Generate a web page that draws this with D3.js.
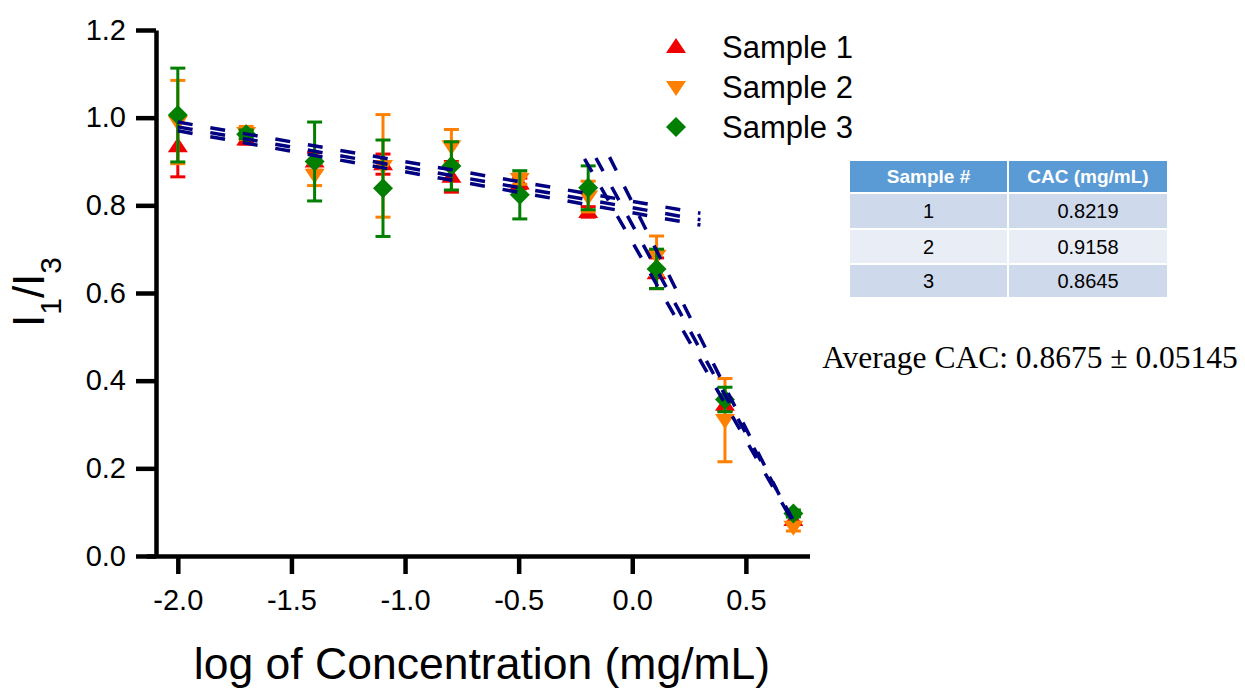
<!DOCTYPE html>
<html>
<head>
<meta charset="utf-8">
<script src="https://cdn.jsdelivr.net/npm/d3@7"></script>
<style>
  body { margin: 0; background: #fff; }
  svg { display: block; font-family: "Liberation Sans", Arial, sans-serif; }
</style>
</head>
<body>
<svg id="chart" width="1245" height="696"></svg>
<script>
// log10 of concentration (mg/mL)
const logConc = [-2.0, -1.699, -1.398, -1.097, -0.796, -0.495, -0.194, 0.107, 0.408, 0.709];

const sampleNames = ['Sample 1', 'Sample 2', 'Sample 3'];

const sample1Mean = [0.935, 0.950, 0.900, 0.894, 0.865, 0.850, 0.785, 0.645, 0.345, 0.082];
const sample1Err  = [0.070, 0.010, 0.020, 0.023, 0.035, 0.012, 0.012, 0.035, 0.015, 0.010];

const sample2Mean = [0.990, 0.965, 0.870, 0.890, 0.935, 0.860, 0.820, 0.685, 0.310, 0.067];
const sample2Err  = [0.095, 0.015, 0.025, 0.117, 0.038, 0.012, 0.035, 0.045, 0.095, 0.010];

const sample3Mean = [1.006, 0.962, 0.900, 0.839, 0.890, 0.824, 0.840, 0.655, 0.357, 0.097];
const sample3Err  = [0.107, 0.010, 0.090, 0.110, 0.055, 0.055, 0.050, 0.045, 0.028, 0.008];

// linear fits below / above the CAC, as [x, y] end points
const preFit1 = [[-2.0, 0.970], [0.3, 0.755]];
const postFit1 = [[-0.21, 0.906], [0.71, 0.075]];
const preFit2 = [[-2.0, 0.990], [0.3, 0.782]];
const postFit2 = [[-0.10, 0.910], [0.70, 0.085]];
const preFit3 = [[-2.0, 0.979], [0.3, 0.767]];
const postFit3 = [[-0.16, 0.908], [0.71, 0.080]];

const xTicks = [-2.0, -1.5, -1.0, -0.5, 0.0, 0.5];
const yTicks = [0.0, 0.2, 0.4, 0.6, 0.8, 1.0, 1.2];

const tableHeader = ['Sample #', 'CAC (mg/mL)'];
const tableSamples = ['1', '2', '3'];
const tableCAC = ['0.8219', '0.9158', '0.8645'];
const averageText = 'Average CAC: 0.8675 \u00b1 0.05145';

const colors = ['#f00000', '#ff8000', '#007f00'];
const shapes = ['up', 'down', 'diamond'];

const svg = d3.select('#chart');

const x = d3.scaleLinear().domain([-2.14, 0.78]).range([146, 809.5]);
const y = d3.scaleLinear().domain([0, 1.2]).range([556, 30]);

// marker paths, centred on 0,0
function markerPath(shape) {
  if (shape === 'up') return 'M0,-9L10,6L-10,6Z';
  if (shape === 'down') return 'M0,9L10,-6L-10,-6Z';
  return 'M0,-10L10,0L0,10L-10,0Z';
}

// axes
const xAxis = d3.axisBottom(x)
  .tickValues(xTicks)
  .tickSize(18)
  .tickSizeOuter(0)
  .tickPadding(15)
  .tickFormat(d => d.toFixed(1));

const yAxis = d3.axisLeft(y)
  .tickValues(yTicks)
  .tickSize(20)
  .tickSizeOuter(0)
  .tickPadding(10)
  .tickFormat(d => d.toFixed(1));

const gx = svg.append('g')
  .attr('transform', `translate(0,${y(0)})`)
  .call(xAxis);

const gy = svg.append('g')
  .attr('transform', `translate(156,0)`)
  .call(yAxis);

[gx, gy].forEach(g => {
  g.select('.domain').attr('stroke', '#000').attr('stroke-width', 4.5);
  g.selectAll('.tick line').attr('stroke', '#000').attr('stroke-width', 4.5);
  g.selectAll('.tick text')
    .attr('fill', '#000')
    .style('font-size', '29px')
    .style('font-family', '"Liberation Sans", Arial, sans-serif');
});

// axis titles
svg.append('text')
  .attr('x', 482)
  .attr('y', 679)
  .attr('text-anchor', 'middle')
  .style('font-size', '44.5px')
  .text('log of Concentration (mg/mL)');

const yLabel = svg.append('text')
  .attr('transform', 'translate(44,292) rotate(-90)')
  .attr('text-anchor', 'middle')
  .style('font-size', '44px');
yLabel.append('tspan').text('I');
yLabel.append('tspan').attr('baseline-shift', 'sub').style('font-size', '30px').text('1');
yLabel.append('tspan').text('/I');
yLabel.append('tspan').attr('baseline-shift', 'sub').style('font-size', '30px').text('3');

// data: error bars then markers
const means = [sample1Mean, sample2Mean, sample3Mean];
const errs = [sample1Err, sample2Err, sample3Err];

means.forEach((m, s) => {
  const pts = logConc.map((c, i) => ({ c, v: m[i], e: errs[s][i] }));
  const g = svg.append('g').attr('class', 'sample' + (s + 1));

  const eb = g.selectAll('.err')
    .data(pts)
    .enter()
    .append('g')
    .attr('stroke', colors[s])
    .attr('stroke-width', 3);

  eb.append('line')
    .attr('x1', d => x(d.c)).attr('x2', d => x(d.c))
    .attr('y1', d => y(d.v - d.e)).attr('y2', d => y(d.v + d.e));
  eb.append('line')
    .attr('x1', d => x(d.c) - 7.5).attr('x2', d => x(d.c) + 7.5)
    .attr('y1', d => y(d.v + d.e)).attr('y2', d => y(d.v + d.e));
  eb.append('line')
    .attr('x1', d => x(d.c) - 7.5).attr('x2', d => x(d.c) + 7.5)
    .attr('y1', d => y(d.v - d.e)).attr('y2', d => y(d.v - d.e));

  g.selectAll('.mark')
    .data(pts)
    .enter()
    .append('path')
    .attr('d', markerPath(shapes[s]))
    .attr('transform', d => `translate(${x(d.c)},${y(d.v)})`)
    .attr('fill', colors[s]);
});

// dashed fit lines
const fits = [preFit1, postFit1, preFit2, postFit2, preFit3, postFit3];
const line = d3.line().x(d => x(d[0])).y(d => y(d[1]));
svg.append('g')
  .selectAll('path')
  .data(fits)
  .enter()
  .append('path')
  .attr('d', line)
  .attr('fill', 'none')
  .attr('stroke', '#000080')
  .attr('stroke-width', 3.5)
  .attr('stroke-dasharray', '15,18');

// legend
const legend = svg.append('g');
sampleNames.forEach((name, i) => {
  const row = legend.append('g').attr('transform', `translate(676,${47 + i * 40})`);
  row.append('path').attr('d', markerPath(shapes[i])).attr('fill', colors[i]);
  row.append('text')
    .attr('x', 46)
    .attr('dy', '0.36em')
    .style('font-size', '31px')
    .text(name);
});

// CAC table
const table = svg.append('g');
const colX = [849, 1008, 1168];
const rowY = [160, 193, 229, 264, 298];
const rowFill = ['#5b9bd5', '#cfd9ec', '#e9edf6', '#cfd9ec'];
const cells = [tableHeader].concat(tableSamples.map((s, i) => [s, tableCAC[i]]));

cells.forEach((row, r) => {
  row.forEach((txt, c) => {
    table.append('rect')
      .attr('x', colX[c]).attr('y', rowY[r])
      .attr('width', colX[c + 1] - colX[c]).attr('height', rowY[r + 1] - rowY[r])
      .attr('fill', rowFill[r])
      .attr('stroke', '#fff')
      .attr('stroke-width', 2);
    table.append('text')
      .attr('x', (colX[c] + colX[c + 1]) / 2)
      .attr('y', (rowY[r] + rowY[r + 1]) / 2)
      .attr('dy', '0.36em')
      .attr('text-anchor', 'middle')
      .attr('fill', r === 0 ? '#fff' : '#000')
      .style('font-weight', r === 0 ? 'bold' : 'normal')
      .style('font-size', r === 0 ? '19px' : '20px')
      .text(txt);
  });
});

svg.append('text')
  .attr('x', 1030)
  .attr('y', 368)
  .attr('text-anchor', 'middle')
  .style('font-family', '"Liberation Serif", "Times New Roman", serif')
  .style('font-size', '31.5px')
  .text(averageText);
</script>
</body>
</html>
